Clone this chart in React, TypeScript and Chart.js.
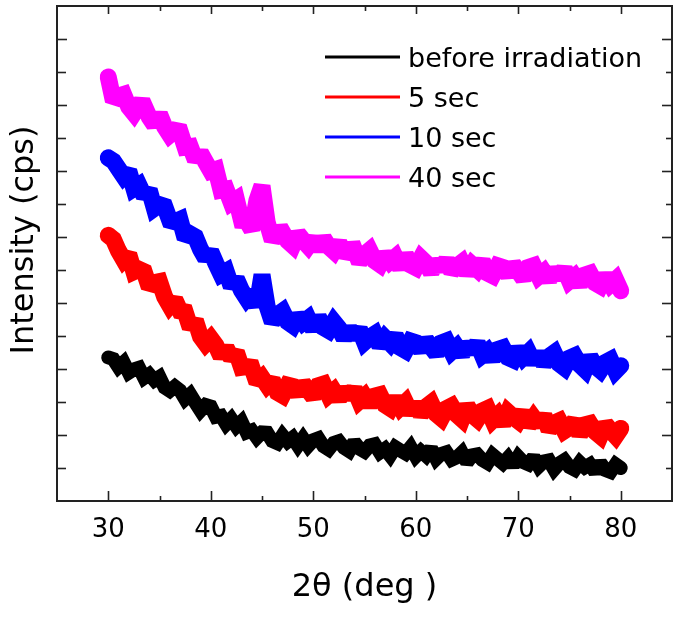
import React, { useEffect, useRef } from "react";
import { Chart, registerables } from "chart.js";

Chart.register(...registerables);

// 2θ values (deg)
const ANGLES = [
  30, 30.5, 31, 31.5, 32, 32.5, 33, 33.5, 34, 34.5, 35, 35.5, 36, 36.5, 37, 37.5, 38, 38.5, 39, 39.5,
  40, 40.5, 41, 41.5, 42, 42.5, 43, 43.5, 44, 44.5, 45, 45.5, 46, 46.5, 47, 47.5, 48, 48.5, 49, 49.5,
  50, 50.5, 51, 51.5, 52, 52.5, 53, 53.5, 54, 54.5, 55, 55.5, 56, 56.5, 57, 57.5, 58, 58.5, 59, 59.5,
  60, 60.5, 61, 61.5, 62, 62.5, 63, 63.5, 64, 64.5, 65, 65.5, 66, 66.5, 67, 67.5, 68, 68.5, 69, 69.5,
  70, 70.5, 71, 71.5, 72, 72.5, 73, 73.5, 74, 74.5, 75, 75.5, 76, 76.5, 77, 77.5, 78, 78.5, 79, 79.5,
  80,
];

// Intensity (arb. offset units)
const BEFORE = [
  4.35, 4.30, 4.06, 4.20, 3.89, 3.99, 4.04, 3.73, 3.84, 3.66, 3.76, 3.44, 3.34, 3.47, 3.35, 3.09, 3.23, 2.98, 2.74, 2.91,
  2.86, 2.55, 2.58, 2.33, 2.49, 2.26, 2.41, 2.08, 2.14, 1.92, 2.08, 2.07, 1.82, 1.75, 1.99, 1.80, 1.92, 1.68, 1.90, 1.67,
  1.84, 1.90, 1.66, 1.56, 1.76, 1.81, 1.61, 1.51, 1.79, 1.59, 1.50, 1.68, 1.72, 1.47, 1.58, 1.38, 1.63, 1.53, 1.44, 1.63,
  1.35, 1.51, 1.37, 1.59, 1.28, 1.43, 1.48, 1.25, 1.32, 1.47, 1.17, 1.38, 1.41, 1.24, 1.15, 1.40, 1.27, 1.14, 1.31, 1.08,
  1.34, 1.18, 1.11, 1.33, 1.05, 1.20, 1.23, 0.96, 1.14, 1.24, 1.03, 0.95, 1.17, 1.02, 1.11, 0.88, 1.16, 0.94, 0.88, 1.11,
  1.00,
];

const SEC5 = [
  8.05, 7.93, 7.58, 7.31, 7.47, 6.95, 7.02, 6.95, 6.48, 6.62, 6.65, 6.19, 5.92, 6.10, 5.76, 5.73, 5.25, 5.47, 4.98, 4.77,
  4.93, 4.72, 4.38, 4.64, 4.33, 4.51, 4.05, 4.07, 4.05, 3.60, 3.74, 3.51, 3.67, 3.29, 3.20, 3.51, 3.47, 3.24, 3.56, 3.36,
  3.16, 3.49, 3.54, 3.21, 3.34, 3.09, 3.39, 3.14, 3.40, 3.03, 3.17, 2.91, 3.18, 3.22, 2.91, 2.81, 3.12, 2.84, 2.99, 2.66,
  2.95, 2.62, 2.85, 2.97, 2.64, 2.51, 2.80, 2.88, 2.62, 2.48, 2.89, 2.61, 2.48, 2.73, 2.80, 2.45, 2.60, 2.33, 2.69, 2.55,
  2.43, 2.70, 2.29, 2.52, 2.31, 2.60, 2.15, 2.36, 2.43, 2.13, 2.23, 2.43, 2.01, 2.31, 2.35, 2.10, 1.97, 2.33, 2.14, 1.97,
  2.20,
];

const SEC10 = [
  10.40, 10.30, 10.07, 9.84, 10.00, 9.47, 9.57, 9.24, 9.42, 8.87, 8.98, 8.93, 8.50, 8.46, 8.53, 7.96, 8.09, 8.00, 7.63, 7.35,
  7.56, 7.20, 6.87, 6.96, 6.50, 6.73, 6.38, 6.14, 6.32, 5.90, 6.85, 5.90, 5.43, 5.64, 5.75, 5.43, 5.32, 5.62, 5.41, 5.53,
  5.19, 5.58, 5.26, 5.17, 5.43, 5.24, 4.93, 5.23, 4.96, 5.21, 4.82, 4.96, 5.06, 4.70, 4.94, 4.78, 5.02, 4.65, 4.56, 4.85,
  4.80, 4.57, 4.88, 4.67, 4.46, 4.79, 4.85, 4.53, 4.67, 4.44, 4.76, 4.52, 4.79, 4.42, 4.54, 4.30, 4.59, 4.64, 4.35, 4.28,
  4.62, 4.36, 4.51, 4.19, 4.48, 4.15, 4.38, 4.49, 4.16, 4.04, 4.33, 4.40, 4.13, 3.98, 4.37, 4.09, 3.96, 4.20, 4.28, 3.94,
  4.10,
];

const SEC40 = [
  12.85, 12.12, 12.27, 12.32, 11.94, 11.75, 11.99, 11.98, 11.63, 11.40, 11.72, 11.34, 11.10, 11.23, 11.20, 10.72, 10.74, 10.33, 10.55, 10.27,
  10.00, 10.05, 9.42, 9.45, 9.04, 9.14, 8.50, 8.49, 8.22, 9.10, 9.55, 8.45, 7.90, 8.14, 8.15, 7.88, 7.74, 8.10, 7.90, 7.73,
  7.95, 7.62, 7.96, 7.71, 7.57, 7.84, 7.43, 7.62, 7.63, 7.24, 7.47, 7.60, 7.28, 7.17, 7.48, 7.26, 7.39, 7.06, 7.46, 7.15,
  7.07, 7.36, 7.21, 6.93, 7.27, 7.03, 7.31, 6.95, 7.11, 7.23, 6.90, 7.16, 7.02, 7.27, 6.91, 6.83, 7.13, 7.08, 6.85, 7.17,
  6.96, 6.74, 7.08, 7.13, 6.81, 6.94, 6.70, 7.01, 6.77, 7.04, 6.67, 6.80, 6.56, 6.85, 6.90, 6.61, 6.52, 6.84, 6.57, 6.71,
  6.37,
];

const SERIES_LABELS = ["before irradiation", "5 sec", "10 sec", "40 sec"];
const SERIES_COLORS = ["#000000", "#ff0000", "#0000ff", "#ff00ff"];
const SERIES_WIDTHS = [14, 17, 17, 17];

const X_MIN = 25;
const X_MAX = 85;
const X_MAJOR = [30, 40, 50, 60, 70, 80];
const X_MINOR = [35, 45, 55, 65, 75];
const Y_MIN = 0;
const Y_MAX = 15;
const Y_MAJOR = [2, 4, 6, 8, 10, 12, 14];
const Y_MINOR = [1, 3, 5, 7, 9, 11, 13];

const X_TITLE = "2\u03B8 (deg )";
const Y_TITLE = "Intensity (cps)";

const FONT = "'DejaVu Sans', 'Liberation Sans', Arial, sans-serif";
const FRAME = "#222222";

const framePlugin = {
  id: "frameTicksLegend",
  beforeDatasetsDraw(chart: any) {
    chart.ctx.miterLimit = 1.8;
  },
  afterDatasetsDraw(chart: any) {
    const { ctx, chartArea: a, scales } = chart;
    const xs = scales.x;
    const ys = scales.y;
    ctx.save();
    ctx.strokeStyle = FRAME;
    ctx.lineWidth = 2;
    ctx.strokeRect(a.left, a.top, a.right - a.left, a.bottom - a.top);
    const seg = (x1: number, y1: number, x2: number, y2: number) => {
      ctx.beginPath();
      ctx.moveTo(x1, y1);
      ctx.lineTo(x2, y2);
      ctx.stroke();
    };
    ctx.lineWidth = 1.6;
    for (const v of X_MAJOR) {
      const p = Math.round(xs.getPixelForValue(v)) + 0.5;
      seg(p, a.bottom, p, a.bottom - 10);
      seg(p, a.top, p, a.top + 8);
    }
    for (const v of X_MINOR) {
      const p = Math.round(xs.getPixelForValue(v)) + 0.5;
      seg(p, a.bottom, p, a.bottom - 5);
      seg(p, a.top, p, a.top + 5);
    }
    for (const v of Y_MAJOR) {
      const p = Math.round(ys.getPixelForValue(v)) + 0.5;
      seg(a.left, p, a.left + 10, p);
      seg(a.right, p, a.right - 10, p);
    }
    for (const v of Y_MINOR) {
      const p = Math.round(ys.getPixelForValue(v)) + 0.5;
      seg(a.left, p, a.left + 9, p);
      seg(a.right, p, a.right - 6, p);
    }

    // legend
    const ds = chart.data.datasets;
    ctx.font = `27px ${FONT}`;
    ctx.textAlign = "left";
    ctx.textBaseline = "alphabetic";
    ds.forEach((d: any, i: number) => {
      const ly = 57 + 40 * i;
      ctx.strokeStyle = d.borderColor;
      ctx.lineWidth = 3;
      seg(325, ly, 400, ly);
      ctx.fillStyle = "#000";
      ctx.fillText(d.label, 408, ly + 10);
    });

    // y title
    ctx.translate(33, 240);
    ctx.rotate(-Math.PI / 2);
    ctx.font = `32px ${FONT}`;
    ctx.textAlign = "center";
    ctx.fillStyle = "#000";
    ctx.fillText(Y_TITLE, 0, 0);
    ctx.restore();
  },
};

export default function App() {
  const ref = useRef<HTMLCanvasElement | null>(null);

  useEffect(() => {
    document.body.style.margin = "0";
    const canvas = ref.current;
    if (!canvas) return;
    const seriesValues = [BEFORE, SEC5, SEC10, SEC40];
    const chart = new Chart(canvas, {
      type: "line",
      data: {
        labels: ANGLES,
        datasets: seriesValues.map((vals, i) => ({
          label: SERIES_LABELS[i],
          data: vals.map((v, k) => ({ x: ANGLES[k], y: v })),
          borderColor: SERIES_COLORS[i],
          backgroundColor: SERIES_COLORS[i],
          borderWidth: SERIES_WIDTHS[i],
          borderJoinStyle: "miter" as const,
          borderCapStyle: "round" as const,
          pointRadius: 0,
          tension: 0,
          fill: false,
        })),
      },
      options: {
        animation: false,
        responsive: false,
        devicePixelRatio: 1,
        layout: { padding: { left: 57, top: 6, right: 13, bottom: 0 } },
        plugins: { legend: { display: false }, tooltip: { enabled: false } },
        scales: {
          x: {
            type: "linear",
            min: X_MIN,
            max: X_MAX,
            grid: { display: false },
            border: { display: false },
            afterBuildTicks: (s: any) => {
              s.ticks = X_MAJOR.map((v) => ({ value: v }));
            },
            afterFit: (s: any) => {
              s.height = 118;
            },
            ticks: {
              color: "#000",
              padding: 6,
              maxRotation: 0,
              font: { family: FONT, size: 26 },
            },
            title: {
              display: true,
              text: X_TITLE,
              color: "#000",
              font: { family: FONT, size: 32 },
              padding: { top: 0, bottom: 12 },
            },
          },
          y: {
            type: "linear",
            display: false,
            min: Y_MIN,
            max: Y_MAX,
          },
        },
      },
      plugins: [framePlugin],
    });
    return () => chart.destroy();
  }, []);

  return (
    <canvas
      ref={ref}
      width={685}
      height={619}
      style={{ display: "block", width: "685px", height: "619px" }}
    />
  );
}
